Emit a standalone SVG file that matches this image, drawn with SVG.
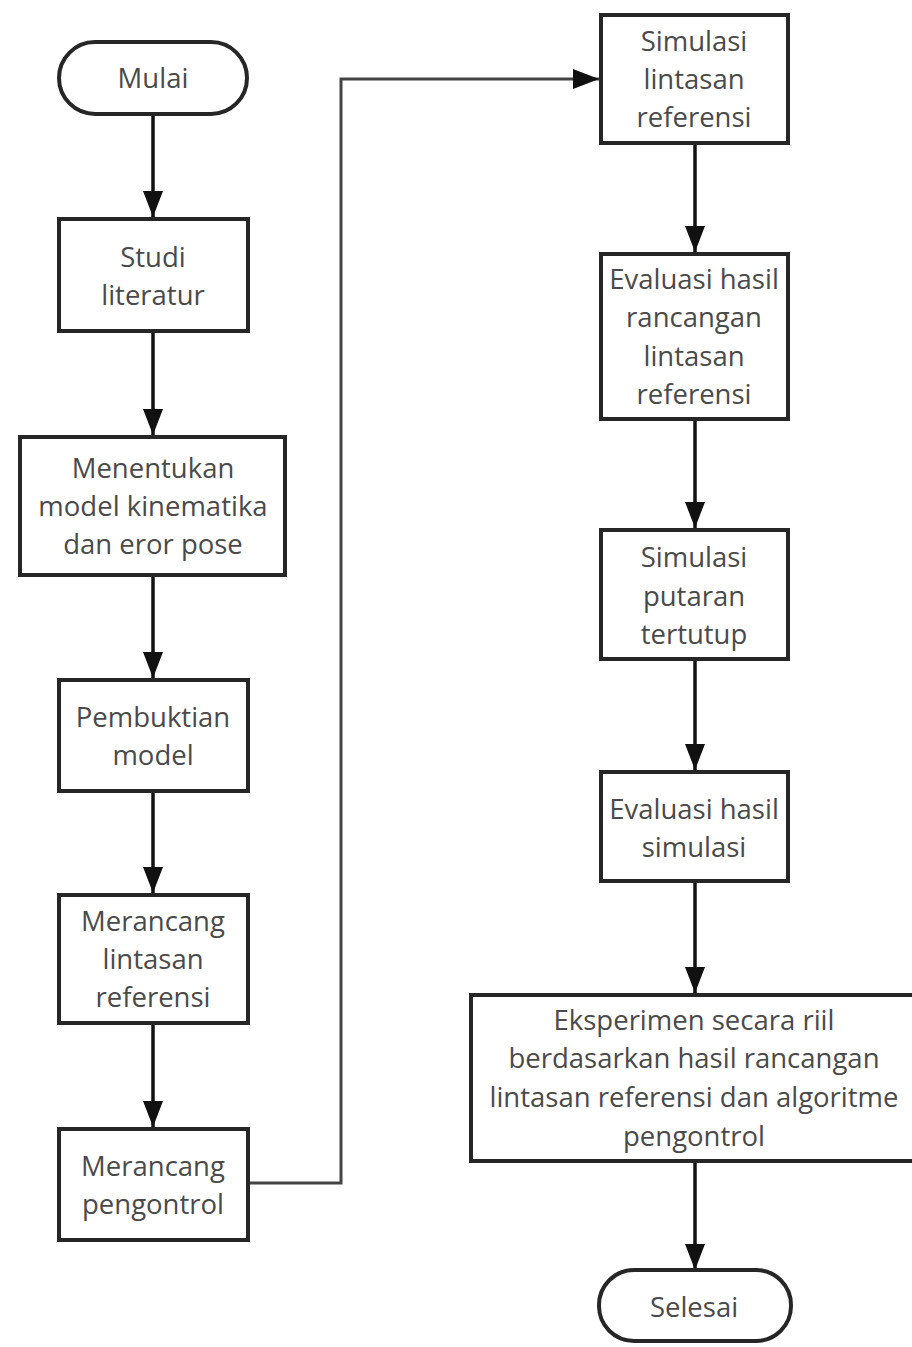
<svg xmlns="http://www.w3.org/2000/svg" width="912" height="1347" viewBox="0 0 912 1347">
<defs>
<style>
.box{fill:#fff;stroke:#262626;stroke-width:4}
.t{font-family:"Open Sans","Liberation Sans",sans-serif;font-size:27.5px;fill:#4a4a4a;text-anchor:middle}
.c{fill:none;stroke:#111;stroke-width:3.5}
.c2{fill:none;stroke:#444;stroke-width:3}
</style>
<marker id="ah" markerUnits="userSpaceOnUse" markerWidth="26" markerHeight="20" refX="26" refY="10" orient="auto">
<path d="M0,0 L26,10 L0,20 z" fill="#111"/>
</marker>
</defs>
<rect width="912" height="1347" fill="#fff"/>
<g id="connectors">
<line class="c" x1="153" y1="116" x2="153" y2="217" marker-end="url(#ah)"/>
<line class="c" x1="153" y1="333" x2="153" y2="435" marker-end="url(#ah)"/>
<line class="c" x1="153" y1="577" x2="153" y2="678" marker-end="url(#ah)"/>
<line class="c" x1="153" y1="793" x2="153" y2="893" marker-end="url(#ah)"/>
<line class="c" x1="153" y1="1025" x2="153" y2="1127" marker-end="url(#ah)"/>
<polyline class="c2" points="250,1183 341,1183 341,79 599,79" marker-end="url(#ah)"/>
<line class="c" x1="695" y1="145" x2="695" y2="252" marker-end="url(#ah)"/>
<line class="c" x1="695" y1="421" x2="695" y2="528" marker-end="url(#ah)"/>
<line class="c" x1="695" y1="661" x2="695" y2="770" marker-end="url(#ah)"/>
<line class="c" x1="695" y1="883" x2="695" y2="993" marker-end="url(#ah)"/>
<line class="c" x1="695" y1="1163" x2="695" y2="1270" marker-end="url(#ah)"/>
</g>
<g id="mulai">
<rect class="box" x="59" y="42" width="188" height="72" rx="36"/>
<text class="t" x="153" y="88">Mulai</text>
</g>
<g id="studi">
<rect class="box" x="59" y="219" width="189" height="112"/>
<text class="t" x="153" y="267">Studi</text>
<text class="t" x="153" y="305">literatur</text>
</g>
<g id="menentukan">
<rect class="box" x="20" y="437" width="265" height="138"/>
<text class="t" x="153" y="478">Menentukan</text>
<text class="t" x="153" y="516">model kinematika</text>
<text class="t" x="153" y="554">dan eror pose</text>
</g>
<g id="pembuktian">
<rect class="box" x="59" y="680" width="189" height="111"/>
<text class="t" x="153" y="727">Pembuktian</text>
<text class="t" x="153" y="765">model</text>
</g>
<g id="merancang-lintasan">
<rect class="box" x="59" y="895" width="189" height="128"/>
<text class="t" x="153" y="931">Merancang</text>
<text class="t" x="153" y="969">lintasan</text>
<text class="t" x="153" y="1007">referensi</text>
</g>
<g id="merancang-pengontrol">
<rect class="box" x="59" y="1129" width="189" height="111"/>
<text class="t" x="153" y="1176">Merancang</text>
<text class="t" x="153" y="1214">pengontrol</text>
</g>
<g id="simulasi-lintasan">
<rect class="box" x="601" y="15" width="187" height="128"/>
<text class="t" x="694" y="51">Simulasi</text>
<text class="t" x="694" y="89">lintasan</text>
<text class="t" x="694" y="127">referensi</text>
</g>
<g id="evaluasi-rancangan">
<rect class="box" x="601" y="254" width="187" height="165"/>
<text class="t" x="694" y="289">Evaluasi hasil</text>
<text class="t" x="694" y="327">rancangan</text>
<text class="t" x="694" y="366">lintasan</text>
<text class="t" x="694" y="404">referensi</text>
</g>
<g id="simulasi-putaran">
<rect class="box" x="601" y="530" width="187" height="129"/>
<text class="t" x="694" y="567">Simulasi</text>
<text class="t" x="694" y="606">putaran</text>
<text class="t" x="694" y="644">tertutup</text>
</g>
<g id="evaluasi-simulasi">
<rect class="box" x="601" y="772" width="187" height="109"/>
<text class="t" x="694" y="819">Evaluasi hasil</text>
<text class="t" x="694" y="857">simulasi</text>
</g>
<g id="eksperimen">
<rect class="box" x="471" y="995" width="445" height="166"/>
<text class="t" x="694" y="1030">Eksperimen secara riil</text>
<text class="t" x="694" y="1068">berdasarkan hasil rancangan</text>
<text class="t" x="694" y="1107">lintasan referensi dan algoritme</text>
<text class="t" x="694" y="1146">pengontrol</text>
</g>
<g id="selesai">
<rect class="box" x="599" y="1270" width="192" height="71" rx="35"/>
<text class="t" x="694" y="1317">Selesai</text>
</g>
</svg>
